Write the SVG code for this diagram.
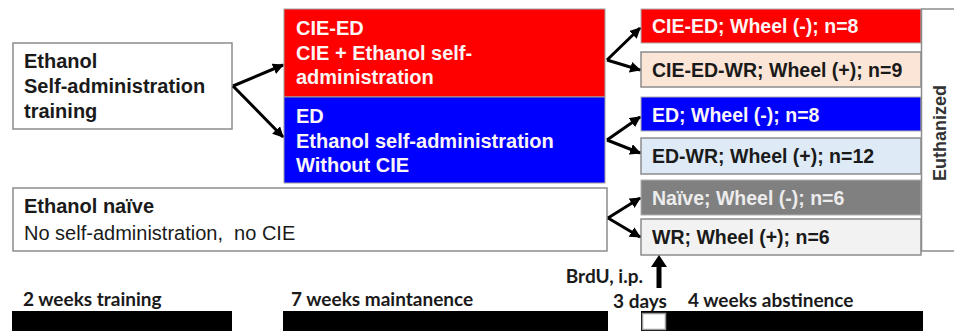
<svg xmlns="http://www.w3.org/2000/svg" width="954" height="331" viewBox="0 0 954 331">
<defs>
<marker id="ah" viewBox="0 0 10 10" refX="9" refY="5" markerWidth="11" markerHeight="11" markerUnits="userSpaceOnUse" orient="auto">
<path d="M0,0 L10,5 L0,10 z" fill="#000"/>
</marker>
<style>
text{font-family:"Liberation Sans",Arial,sans-serif;}
.b{font-weight:bold;font-size:20px;}
.s{font-weight:bold;font-size:19.5px;}
.r{font-size:20px;}
.w{fill:#fbf5f5;}
.k{fill:#1a1a1a;}
.box{stroke:#8c8c8c;stroke-width:1.5;}
.c{fill:none;stroke:#000;stroke-width:3;marker-end:url(#ah);}
.t{font-family:Lato,"Liberation Sans",sans-serif;font-weight:bold;font-size:19px;fill:#1a1a1a;}
</style>
</defs>
<rect width="954" height="331" fill="#fff"/>

<g id="training">
<rect class="box" x="13" y="43" width="219" height="86" fill="#fff"/>
<text class="b k" x="24" y="68">Ethanol</text>
<text class="b k" x="24" y="93">Self-administration</text>
<text class="b k" x="24" y="118">training</text>
</g>

<g id="cie-ed">
<rect x="284" y="9" width="321" height="88" fill="#ff0000" stroke="#a0a0a0" stroke-width="1"/>
<text class="b w" x="296" y="35">CIE-ED</text>
<text class="b w" x="296" y="60">CIE + Ethanol self-</text>
<text class="b w" x="296" y="84">administration</text>
</g>

<g id="ed">
<rect x="284" y="97" width="321" height="86" fill="#0000ff" stroke="#a0a0a0" stroke-width="1"/>
<text class="b w" x="296" y="123">ED</text>
<text class="b w" x="296" y="148">Ethanol self-administration</text>
<text class="b w" x="296" y="172">Without CIE</text>
</g>

<g id="naive">
<rect class="box" x="13" y="188" width="594" height="63" fill="#fff"/>
<text class="b k" x="24" y="213">Ethanol naïve</text>
<text class="r k" x="24" y="240" xml:space="preserve">No self-administration,  no CIE</text>
</g>

<g id="g-cie-ed">
<rect x="641" y="9" width="280" height="34" fill="#ff0000" stroke="#b0b0b0" stroke-width="1"/>
<text class="s w" x="652" y="33">CIE-ED; Wheel (-); n=8</text>
</g>
<g id="g-cie-ed-wr">
<rect class="box" x="641" y="52" width="280" height="35" fill="#fbe5d6"/>
<text class="s k" x="652" y="77">CIE-ED-WR; Wheel (+); n=9</text>
</g>
<g id="g-ed">
<rect x="641" y="97" width="280" height="34" fill="#0000ff" stroke="#b0b0b0" stroke-width="1"/>
<text class="s w" x="652" y="122">ED; Wheel (-); n=8</text>
</g>
<g id="g-ed-wr">
<rect class="box" x="641" y="138" width="280" height="36" fill="#deebf7"/>
<text class="s k" x="652" y="163">ED-WR; Wheel (+); n=12</text>
</g>
<g id="g-naive">
<rect x="641" y="180" width="280" height="35" fill="#808080" stroke="#b0b0b0" stroke-width="1"/>
<text class="s" x="652" y="205" fill="#ececec">Naïve; Wheel (-); n=6</text>
</g>
<g id="g-wr">
<rect class="box" x="641" y="219" width="280" height="36" fill="#f2f2f2" stroke="#c0c0c0"/>
<text class="s k" x="652" y="244">WR; Wheel (+); n=6</text>
</g>

<g id="euthanized">
<path d="M954,9 H921.5 V251 H954" fill="none" stroke="#8c8c8c" stroke-width="1.5"/>
<text x="946" y="133" transform="rotate(-90 946 133)" text-anchor="middle" font-weight="bold" font-size="18" fill="#333">Euthanized</text>
</g>

<g id="connectors">
<path class="c" d="M233,86 L283,65"/>
<path class="c" d="M233,86 L283,137"/>
<path class="c" d="M607,60 L640,28"/>
<path class="c" d="M607,60 L640,70"/>
<path class="c" d="M607,140 L640,117"/>
<path class="c" d="M607,140 L640,153"/>
<path class="c" d="M608,218 L640,198"/>
<path class="c" d="M608,218 L640,237"/>
<path d="M656.5,288 V267 H651 L659,255 L667,267 H661.5 V288 z" fill="#000"/>
</g>

<g id="timeline">
<text class="t" x="23" y="306">2 weeks training</text>
<text class="t" x="291" y="306">7 weeks maintanence</text>
<text class="t" x="643" y="283" text-anchor="end">BrdU, i.p.</text>
<text class="t" x="613" y="308">3 days</text>
<text class="t" x="688" y="307">4 weeks abstinence</text>
<rect x="12" y="311" width="220" height="20" fill="#000"/>
<rect x="283" y="311" width="325" height="20" fill="#000"/>
<rect x="641" y="311" width="282" height="20" fill="#000"/>
<rect x="642.5" y="313.5" width="23" height="16" fill="#fff" stroke="#999" stroke-width="1.5"/>
</g>
</svg>
